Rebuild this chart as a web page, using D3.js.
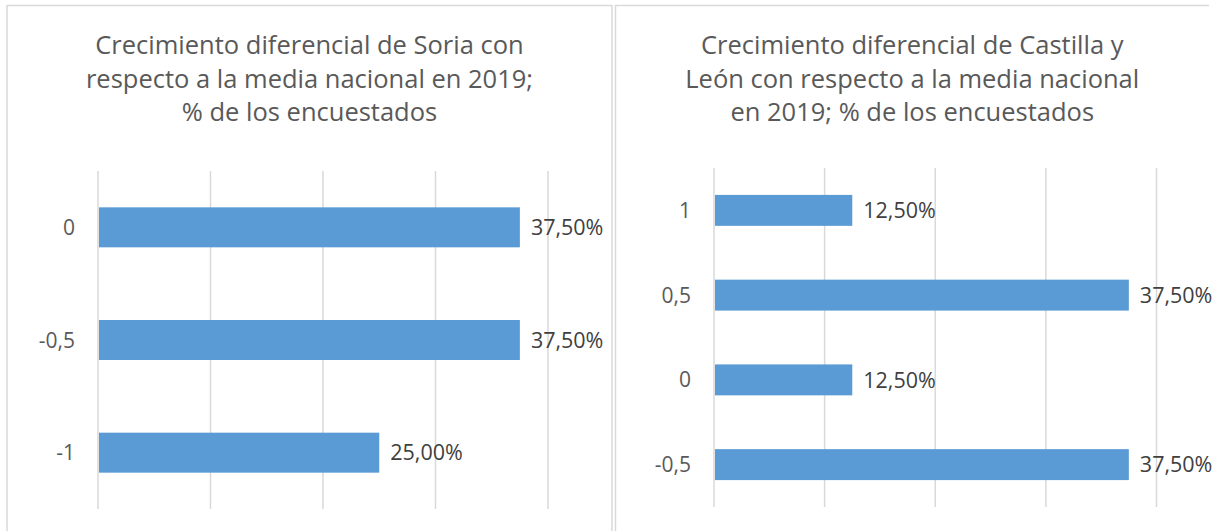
<!DOCTYPE html>
<html>
<head>
<meta charset="utf-8">
<script src="https://cdn.jsdelivr.net/npm/d3@7"></script>
<style>
  body { margin: 0; background: #ffffff; }
  svg { display: block; }
  text { font-family: "Open Sans", sans-serif; }
</style>
</head>
<body>
<svg width="1217" height="531"></svg>
<script>
// Données
let soriaCategories = ["0", "-0,5", "-1"];
let soriaValues = [0.375, 0.375, 0.25];
let soriaTitle = ["Crecimiento diferencial de Soria con", "respecto a la media nacional en 2019;", "% de los encuestados"];

let cylCategories = ["1", "0,5", "0", "-0,5"];
let cylValues = [0.125, 0.375, 0.125, 0.375];
let cylTitle = ["Crecimiento diferencial de Castilla y", "León con respecto a la media nacional", "en 2019; % de los encuestados"];

let gridTicks = [0, 0.1, 0.2, 0.3, 0.4];

let svg = d3.select("svg");
let fmt = v => d3.format(".2f")(v * 100).replace(".", ",") + "%";

// Dessin d'un panneau
function panneau(p) {
    let g = svg.append("g");

    // cadre
    g.append("line").attr("x1", p.left).attr("x2", p.right).attr("y1", 5.5).attr("y2", 5.5)
        .attr("stroke", "#d9d9d9").attr("stroke-width", 1.5);
    g.append("line").attr("x1", p.left).attr("x2", p.left).attr("y1", 5).attr("y2", 540)
        .attr("stroke", "#d9d9d9").attr("stroke-width", 1.5);
    if (p.borderRight)
        g.append("line").attr("x1", p.right).attr("x2", p.right).attr("y1", 5).attr("y2", 540)
            .attr("stroke", "#d9d9d9").attr("stroke-width", 1.5);

    // titre
    let t = g.append("text")
        .attr("text-anchor", "middle")
        .attr("fill", "#595959")
        .style("font-size", "25.5px");
    t.selectAll("tspan").data(p.title).enter().append("tspan")
        .attr("x", (p.left + p.right) / 2)
        .attr("y", (d, i) => 54 + i * 33.5)
        .text(d => d);

    let x = d3.scaleLinear().domain([0, 0.4]).range([p.x0, p.x1]);
    let y = d3.scaleBand().domain(p.categories).range([p.y0, p.y1]).paddingInner(p.pad).paddingOuter(p.pad / 2);

    // grille
    g.append("g").selectAll("line").data(gridTicks).enter().append("line")
        .attr("x1", d => x(d)).attr("x2", d => x(d))
        .attr("y1", p.y0).attr("y2", p.y1)
        .attr("stroke", "#d9d9d9").attr("stroke-width", 1.5);

    let data = p.categories.map((c, i) => ({ c: c, v: p.values[i] }));

    // barres
    g.append("g").selectAll("rect").data(data).enter().append("rect")
        .attr("x", x(0) + 1)
        .attr("y", d => y(d.c))
        .attr("width", d => x(d.v) - x(0) - 1)
        .attr("height", y.bandwidth())
        .attr("fill", "#5b9bd5");

    // étiquettes des catégories
    g.append("g").selectAll("text").data(data).enter().append("text")
        .attr("x", x(0) - 23)
        .attr("y", d => y(d.c) + y.bandwidth() / 2)
        .attr("dy", "0.36em")
        .attr("text-anchor", "end")
        .attr("fill", "#595959")
        .style("font-size", "21px")
        .text(d => d.c);

    // étiquettes des valeurs
    g.append("g").selectAll("text").data(data).enter().append("text")
        .attr("x", d => x(d.v) + 11)
        .attr("y", d => y(d.c) + y.bandwidth() / 2)
        .attr("dy", "0.36em")
        .attr("fill", "#404040")
        .style("font-size", "21.5px")
        .text(d => fmt(d.v));
}

panneau({
    left: 7, right: 612, borderRight: true,
    title: soriaTitle, categories: soriaCategories, values: soriaValues,
    x0: 98, x1: 548, y0: 171, y1: 509, pad: 0.645
});

panneau({
    left: 615.5, right: 1209, borderRight: false,
    title: cylTitle, categories: cylCategories, values: cylValues,
    x0: 714, x1: 1156.5, y0: 168, y1: 507, pad: 0.635
});
</script>
</body>
</html>
